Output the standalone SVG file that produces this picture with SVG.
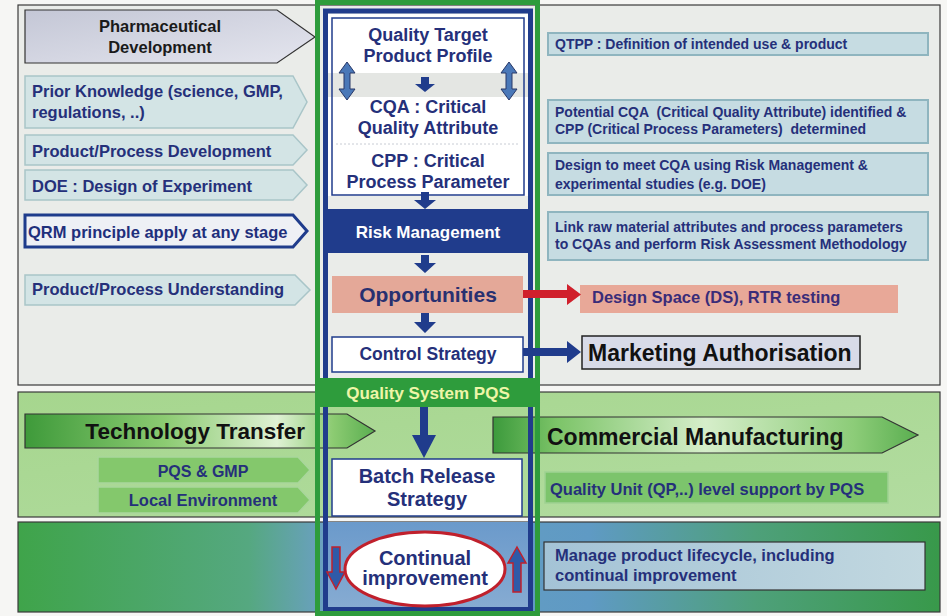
<svg xmlns="http://www.w3.org/2000/svg" width="947" height="616" viewBox="0 0 947 616">
<defs>
<style>
text{font-family:"Liberation Sans",Arial,sans-serif;font-weight:bold}
.nv{fill:#25307a}
.dk{fill:#1a1a1a}
.lc{fill:#d3e4e5;stroke:#a9c5c8;stroke-width:1.5}
.rb{fill:#c6dce2;stroke:#8fb5bf;stroke-width:2}
.pn{stroke:#3a3a3a;stroke-width:1.2}
.navy{fill:#203c8c}
.gch{fill:#84c86c;stroke:#a9d69c;stroke-width:1.5}
.c{text-anchor:middle}
</style>
<linearGradient id="gPD" x1="0" y1="0" x2="1" y2="1">
<stop offset="0" stop-color="#c4c7d6"/><stop offset="1" stop-color="#e4e5ee"/>
</linearGradient>
<linearGradient id="gMid" x1="0" y1="0" x2="1" y2="1">
<stop offset="0" stop-color="#a6d68e"/><stop offset="1" stop-color="#b2dca0"/>
</linearGradient>
<linearGradient id="gBot" gradientUnits="userSpaceOnUse" x1="18" y1="0" x2="940" y2="0">
<stop offset="0" stop-color="#3fa44a"/><stop offset="0.25" stop-color="#55a880"/><stop offset="0.33" stop-color="#6aa0c0"/><stop offset="0.62" stop-color="#5f9ac4"/><stop offset="0.8" stop-color="#4ea07a"/><stop offset="1" stop-color="#38994a"/>
</linearGradient>
<linearGradient id="gTT" gradientUnits="userSpaceOnUse" x1="25" y1="0" x2="375" y2="0">
<stop offset="0" stop-color="#3e9a3a"/><stop offset="0.4" stop-color="#8ccb72"/><stop offset="0.72" stop-color="#dff1d4"/><stop offset="0.88" stop-color="#8ccb72"/><stop offset="1" stop-color="#5aae50"/>
</linearGradient>
<linearGradient id="gCM" gradientUnits="userSpaceOnUse" x1="493" y1="0" x2="918" y2="0">
<stop offset="0" stop-color="#3c9a3c"/><stop offset="0.15" stop-color="#7cc468"/><stop offset="0.5" stop-color="#d6eeca"/><stop offset="0.85" stop-color="#8ccc78"/><stop offset="1" stop-color="#5aae50"/>
</linearGradient>
<linearGradient id="gCol" x1="0" y1="0" x2="0" y2="1">
<stop offset="0" stop-color="#6b9acb"/><stop offset="1" stop-color="#86abd2"/>
</linearGradient>
<linearGradient id="gMg" x1="0" y1="0" x2="1" y2="0">
<stop offset="0" stop-color="#a4c3d6"/><stop offset="1" stop-color="#c2d8e0"/>
</linearGradient>
</defs>

<rect width="947" height="616" fill="#f6f6f4"/>

<g id="panels">
<rect class="pn" x="18" y="5" width="922" height="380" fill="#eaece9"/>
<rect class="pn" x="18" y="392" width="922" height="125" fill="url(#gMid)"/>
<rect class="pn" x="18" y="522" width="922" height="90" fill="url(#gBot)"/>
</g>

<g id="pharma-dev">
<polygon points="25,10 277,10 315,37 277,63 25,63" fill="url(#gPD)" stroke="#333" stroke-width="1.2"/>
<text class="dk c" x="160" y="32" font-size="16.5">Pharmaceutical</text>
<text class="dk c" x="160" y="53" font-size="16.5">Development</text>
</g>
<g id="prior-knowledge">
<polygon class="lc" points="25,76 293,76 307,102 293,128 25,128"/>
<text class="nv" x="32" y="97" font-size="16.5">Prior Knowledge (science, GMP,</text>
<text class="nv" x="32" y="118" font-size="16.5">regulations, ..)</text>
</g>
<g id="pp-development">
<polygon class="lc" points="25,135 293,135 307,150 293,165 25,165"/>
<text class="nv" x="32" y="157" font-size="16.5">Product/Process Development</text>
</g>
<g id="doe">
<polygon class="lc" points="25,170 293,170 307,185 293,200 25,200"/>
<text class="nv" x="32" y="192" font-size="16.5">DOE : Design of Experiment</text>
</g>
<g id="qrm">
<polygon points="25,215 293,215 307,231 293,247 25,247" fill="#eef0f5" stroke="#1f3c8c" stroke-width="3"/>
<text x="28" y="238" font-size="16.5" fill="#1f2f7c">QRM principle apply at any stage</text>
</g>
<g id="pp-understanding">
<polygon class="lc" points="25,275 295,275 310,290 295,305 25,305"/>
<text class="nv" x="32" y="295" font-size="16.5">Product/Process Understanding</text>
</g>

<g id="qtpp-def">
<rect class="rb" x="548" y="33" width="380" height="22"/>
<text class="nv" x="555" y="49" font-size="14">QTPP : Definition of intended use &amp; product</text>
</g>
<g id="potential-cqa">
<rect class="rb" x="548" y="100" width="380" height="43"/>
<text class="nv" x="555" y="117" font-size="14" xml:space="preserve">Potential CQA  (Critical Quality Attribute) identified &amp;</text>
<text class="nv" x="555" y="134" font-size="14" xml:space="preserve">CPP (Critical Process Parameters)  determined</text>
</g>
<g id="design-meet">
<rect class="rb" x="548" y="153" width="380" height="42"/>
<text class="nv" x="555" y="170" font-size="14">Design to meet CQA using Risk Management &amp;</text>
<text class="nv" x="555" y="189" font-size="14">experimental studies (e.g. DOE)</text>
</g>
<g id="link-raw">
<rect class="rb" x="548" y="212" width="380" height="48"/>
<text class="nv" x="555" y="232" font-size="14">Link raw material attributes and process parameters</text>
<text class="nv" x="555" y="249" font-size="14">to CQAs and perform Risk Assessment Methodology</text>
</g>
<g id="design-space">
<rect x="580" y="285" width="318" height="28" fill="#e8a898"/>
<text x="592" y="303" font-size="16.5" fill="#3a2c78">Design Space (DS), RTR testing</text>
</g>
<g id="marketing">
<rect x="582" y="336" width="278" height="33" fill="#d8dbe8" stroke="#222" stroke-width="1.5"/>
<text x="588" y="361" font-size="23" fill="#111">Marketing Authorisation</text>
</g>

<g id="tech-transfer">
<polygon points="25,414 347,414 375,431 347,448 25,448" fill="url(#gTT)" stroke="#333" stroke-width="1.2"/>
<text x="305" y="439" font-size="22.5" fill="#111" text-anchor="end">Technology Transfer</text>
</g>
<g id="commercial">
<polygon points="493,417 882,417 918,435 882,453 493,453" fill="url(#gCM)" stroke="#333" stroke-width="1.2"/>
<text x="547" y="445" font-size="23" fill="#111">Commercial Manufacturing</text>
</g>
<g id="pqs-gmp">
<polygon class="gch" points="98,457 298,457 310,470 298,483 98,483"/>
<text class="nv c" x="203" y="477" font-size="16">PQS &amp; GMP</text>
</g>
<g id="local-env">
<polygon class="gch" points="98,487 298,487 310,500 298,513 98,513"/>
<text class="nv c" x="203" y="506" font-size="16.5">Local Environment</text>
</g>
<g id="quality-unit">
<rect x="545" y="472" width="343" height="31" fill="#7cc46c" stroke="#9fd293" stroke-width="1.5"/>
<text class="nv" x="550" y="495" font-size="16.5">Quality Unit (QP,..) level support by PQS</text>
</g>
<g id="manage">
<rect x="544" y="542" width="381" height="48" fill="url(#gMg)" stroke="#333" stroke-width="1.2"/>
<text class="nv" x="555" y="561" font-size="16.5">Manage product lifecycle, including</text>
<text class="nv" x="555" y="581" font-size="16.5">continual improvement</text>
</g>

<g id="column">
<rect x="328" y="14" width="200" height="182" fill="#ffffff"/>
<rect x="328" y="73" width="200" height="24" fill="#e4e6e3"/>
<rect x="332" y="18" width="192" height="177" fill="none" stroke="#203c8c" stroke-width="1.5"/>
<line x1="336" y1="144" x2="520" y2="144" stroke="#c8ccd4" stroke-width="1" stroke-dasharray="2,2"/>
<rect x="328" y="522" width="200" height="85" fill="url(#gCol)"/>
<rect x="325.5" y="11" width="205" height="598.5" fill="none" stroke="#203c8c" stroke-width="5"/>
<rect x="317.5" y="2.5" width="220" height="611" fill="none" stroke="#2e9c3c" stroke-width="5"/>
</g>
<g id="qtpp">
<text class="nv c" x="428" y="41" font-size="18">Quality Target</text>
<text class="nv c" x="428" y="62" font-size="18">Product Profile</text>
</g>
<g id="cqa">
<text class="nv c" x="428" y="113" font-size="18">CQA : Critical</text>
<text class="nv c" x="428" y="134" font-size="18">Quality Attribute</text>
</g>
<g id="cpp">
<text class="nv c" x="428" y="167" font-size="18">CPP : Critical</text>
<text class="nv c" x="428" y="188" font-size="18">Process Parameter</text>
</g>
<g id="risk-management">
<rect class="navy" x="323" y="209" width="210" height="44"/>
<text class="c" x="428" y="238" font-size="17" fill="#ffffff">Risk Management</text>
</g>
<g id="opportunities">
<rect x="332" y="276" width="191" height="37" fill="#e4a898"/>
<text class="c" x="428" y="302" font-size="21" fill="#283070">Opportunities</text>
</g>
<g id="control-strategy">
<rect x="332" y="337" width="191" height="35" fill="#ffffff" stroke="#203c8c" stroke-width="1.5"/>
<text class="nv c" x="428" y="360" font-size="17.5">Control Strategy</text>
</g>
<g id="quality-system">
<rect x="315" y="378" width="225" height="29" fill="#2e9c3c"/>
<text class="c" x="428" y="399" font-size="17" fill="#eef5a8">Quality System PQS</text>
</g>
<g id="batch-release">
<rect x="332" y="459" width="190" height="57" fill="#ffffff" stroke="#203c8c" stroke-width="1.5"/>
<text class="nv c" x="427" y="483" font-size="20">Batch Release</text>
<text class="nv c" x="427" y="506" font-size="20">Strategy</text>
</g>
<g id="continual">
<ellipse cx="425" cy="569" rx="80" ry="37" fill="#ffffff" stroke="#c0202c" stroke-width="3"/>
<text class="nv c" x="425" y="565" font-size="20">Continual</text>
<text class="nv c" x="425" y="585" font-size="20">improvement</text>
</g>

<g id="connectors">
<g fill="#4a78b8" stroke="#283868" stroke-width="1">
<polygon points="347,62 355,73 350,73 350,89 355,89 347,100 339,89 344,89 344,73 339,73"/>
<polygon points="509,62 517,73 512,73 512,89 517,89 509,100 501,89 506,89 506,73 501,73"/>
</g>
<g class="navy">
<polygon points="421,77 429,77 429,84 435,84 425,92 415,84 421,84"/>
<polygon points="421,192 429,192 429,200 436,200 425,209 414,200 421,200"/>
<polygon points="421,255 429,255 429,263 436,263 425,273 414,263 421,263"/>
<polygon points="421,313 429,313 429,322 436,322 425,333 414,322 421,322"/>
<polygon points="420,407 428,407 428,435 436,435 424,458 412,435 420,435"/>
</g>
<polygon points="523,290 567,290 567,284 581,294.5 567,305 567,298 523,298" fill="#d0202c"/>
<polygon class="navy" points="523,348 567,348 567,341 581,352 567,363 567,356 523,356"/>
<g fill="#2f5aa8" stroke="#c0202c" stroke-width="1.5">
<polygon points="332,547 340,547 340,572 345,572 336,589 327,572 332,572"/>
<polygon points="517,547 526,563 521,563 521,592 513,592 513,563 508,563"/>
</g>
</g>
</svg>
